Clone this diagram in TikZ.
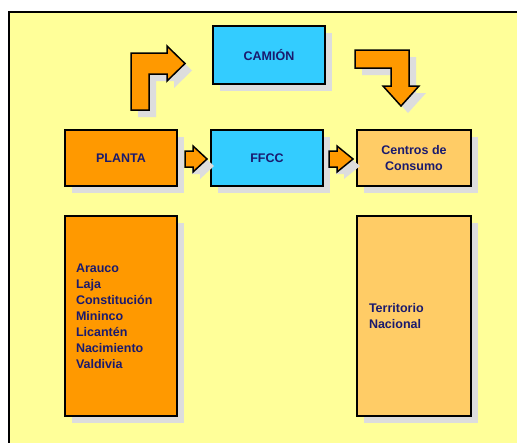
\documentclass[tikz,border=0pt]{standalone}
\usepackage{fontspec}
\setmainfont{Liberation Sans}
\usetikzlibrary{shadows}
\definecolor{frameyellow}{RGB}{255,255,153}
\definecolor{boxorange}{RGB}{255,153,0}
\definecolor{boxcyan}{RGB}{51,204,255}
\definecolor{boxpeach}{RGB}{255,204,102}
\definecolor{shadowgray}{RGB}{221,221,221}
\definecolor{textnavy}{RGB}{26,26,110}

\begin{document}
\begin{tikzpicture}
  [x=1pt,y=-1pt,
   boxshadow/.style={drop shadow={shadow xshift=7pt,shadow yshift=-7pt,fill=shadowgray,opacity=1}},
   stagebox/.style={rectangle,draw,line width=1.5pt,boxshadow,inner sep=0pt,text=textnavy,
     font=\fontsize{12.5}{16}\selectfont\bfseries,align=center,minimum width=112pt,minimum height=56pt},
   listbox/.style={stagebox,minimum height=200pt,text width=90pt,align=left},
   flowarrow/.style={draw,line width=1.5pt,fill=boxorange,boxshadow,line join=miter}]
  \useasboundingbox (0,0) rectangle (517,442);
  \fill[white] (0,0) rectangle (517,442);
  \draw[line width=1.2pt,fill=frameyellow] (9,12) rectangle (540,470);

  \node[stagebox,fill=boxcyan,minimum height=58pt] (camion) at (269,55) {CAMIÓN};
  \node[stagebox,fill=boxorange] (planta) at (121,158) {PLANTA};
  \node[stagebox,fill=boxcyan] (ffcc) at (267,158) {FFCC};
  \node[stagebox,fill=boxpeach,minimum width=114pt] (centros) at (414,158) {Centros de\\Consumo};
  \node[listbox,fill=boxorange] (plantas) at (121,316)
    {Arauco\\Laja\\Constitución\\Mininco\\Licantén\\Nacimiento\\Valdivia};
  \node[listbox,fill=boxpeach,minimum width=114pt] (territorio) at (414,316)
    {Territorio\\Nacional};

  % bent arrows over and down
  \draw[flowarrow] (131,110) -- (131,53) -- (167,53) -- (167,46) -- (185,63.5)
    -- (167,81) -- (167,74) -- (149,74) -- (149,110) -- cycle;
  \draw[flowarrow] (355,50) -- (409,50) -- (409,86) -- (419,86) -- (401,106)
    -- (383,86) -- (391,86) -- (391,68) -- (355,68) -- cycle;

  % short arrows between the boxes
  \draw[flowarrow] (185,151) -- (193,151) -- (193,146) -- (207,159) -- (193,172)
    -- (193,167) -- (185,167) -- cycle;
  \draw[flowarrow] (329,151) -- (337,151) -- (337,146) -- (353,159) -- (337,172)
    -- (337,167) -- (329,167) -- cycle;
\end{tikzpicture}
\end{document}
